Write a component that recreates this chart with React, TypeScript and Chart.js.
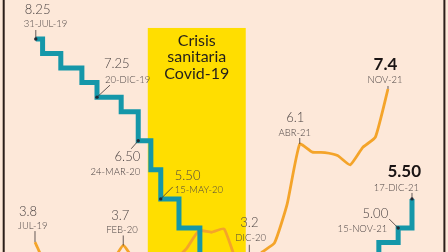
import { useEffect, useRef } from "react";
import { Chart, registerables } from "chart.js";

Chart.register(...registerables);

// Banxico target rate (effective dates) and values
const rateDates = [
  "2019-07-31", "2019-08-16", "2019-09-27", "2019-11-15", "2019-12-20",
  "2020-02-14", "2020-03-24", "2020-04-22", "2020-05-15", "2020-06-26",
  "2020-08-14", "2020-09-25", "2021-02-12", "2021-06-25", "2021-08-13",
  "2021-10-01", "2021-11-15", "2021-12-17",
];
const rateValues = [
  8.25, 8.0, 7.75, 7.5, 7.25,
  7.0, 6.5, 6.0, 5.5, 5.0,
  4.5, 4.25, 4.0, 4.25, 4.5,
  4.75, 5.0, 5.5,
];
const rateNotes = ["31-JUL-19", "20-DIC-19", "24-MAR-20", "15-MAY-20", "12-AGO-21", "15-NOV-21", "17-DIC-21"];

// Annual inflation, monthly
const inflMonths = [
  "JUL-19", "AGO-19", "SEP-19", "OCT-19", "NOV-19", "DIC-19",
  "ENE-20", "FEB-20", "MAR-20", "ABR-20", "MAY-20", "JUN-20",
  "JUL-20", "AGO-20", "SEP-20", "OCT-20", "NOV-20", "DIC-20",
  "ENE-21", "FEB-21", "MAR-21", "ABR-21", "MAY-21", "JUN-21",
  "JUL-21", "AGO-21", "SEP-21", "OCT-21", "NOV-21",
];
const inflValues = [
  3.78, 3.16, 3.0, 3.02, 2.97, 2.83,
  3.24, 3.7, 3.25, 2.15, 2.84, 3.33,
  3.62, 4.05, 4.01, 4.09, 3.33, 3.2,
  3.54, 3.76, 4.67, 6.08, 5.89, 5.88,
  5.81, 5.59, 6.0, 6.24, 7.37,
];
const inflNotes = ["JUL-19", "FEB-20", "DIC-20", "ABR-21", "NOV-21"];

// Covid band
const bandText = ["Crisis", "sanitaria", "Covid-19"];
const bandDates = ["2020-04-15", "2020-11-28"];
const bandTopRate = 8.44;

const MONTHS = ["ENE", "FEB", "MAR", "ABR", "MAY", "JUN", "JUL", "AGO", "SEP", "OCT", "NOV", "DIC"];

const daysIn = (y: number, m1: number) => new Date(y, m1, 0).getDate();
function dateToMonth(s: string) {
  const [y, m, d] = s.split("-").map(Number);
  return (y - 2019) * 12 + (m - 7) + (d - 1) / daysIn(y, m);
}
function noteToIso(n: string) {
  const [d, mon, yy] = n.split("-");
  const m = MONTHS.indexOf(mon) + 1;
  return `20${yy}-${String(m).padStart(2, "0")}-${d}`;
}
const fmt = (v: number, dp: number) => (Math.round(v * 10 ** dp + 1e-6) / 10 ** dp).toFixed(dp);

// label layout (offsets from the point): [dx, dy, align]
type Lay = { num: [number, number, CanvasTextAlign]; date: [number, number, CanvasTextAlign]; lead: [number, number]; bold?: boolean };
const rateLayout: Lay[] = [
  { num: [-11, -25, "left"], date: [-12, -12, "left"], lead: [0, -9] },
  { num: [7, -29, "left"], date: [8, -14, "left"], lead: [13, -12] },
  { num: [2, 20, "right"], date: [2, 34, "right"], lead: [-7, 8] },
  { num: [14, -19, "left"], date: [14, -6, "left"], lead: [12, -12] },
  { num: [-7, -4, "right"], date: [-7, 10, "right"], lead: [-6, -9] },
  { num: [-10, -10, "right"], date: [-11, 4, "right"], lead: [-9, -9] },
  { num: [9, -22, "right"], date: [7, -8, "right"], lead: [0, -6], bold: true },
];
const inflLayout: Lay[] = [
  { num: [-16, -26, "left"], date: [-17, -13, "left"], lead: [0, -11] },
  { num: [-12, -25, "left"], date: [-17, -12, "left"], lead: [0, -10] },
  { num: [-9, -40, "left"], date: [-14, -26, "left"], lead: [0, -22] },
  { num: [-4.5, -22, "center"], date: [-5, -8, "center"], lead: [0, -6] },
  { num: [-2.5, -19, "center"], date: [-3, -6, "center"], lead: [0, -3], bold: true },
];

const BG = "#fde8d9";
const TEAL = "#1597a9";
const ORANGE = "#f4a42a";
const YELLOW = "#ffde00";
const TEXT = "#4b4343";
const FONT = "Lato, 'Open Sans', sans-serif";

export default function App() {
  const ref = useRef<HTMLCanvasElement>(null);

  useEffect(() => {
    if (!ref.current) return;
    const rateData = rateDates.map((d, i) => ({ x: dateToMonth(d), y: rateValues[i] }));
    const inflData = inflValues.map((v, i) => ({ x: i, y: v }));

    const drawNote = (ctx: CanvasRenderingContext2D, px: number, py: number, num: string, date: string, lay: Lay, dot: boolean) => {
      ctx.strokeStyle = "#3d3535";
      ctx.lineWidth = 0.8;
      ctx.beginPath();
      ctx.moveTo(px, py);
      ctx.lineTo(px + lay.lead[0], py + lay.lead[1]);
      ctx.stroke();
      if (dot) {
        ctx.fillStyle = "#1f2a36";
        ctx.beginPath();
        ctx.arc(px, py, 1.7, 0, Math.PI * 2);
        ctx.fill();
      }
      ctx.textBaseline = "alphabetic";
      ctx.fillStyle = lay.bold ? "#1a1414" : TEXT;
      ctx.font = lay.bold ? `bold 17px ${FONT}` : `300 13px ${FONT}`;
      ctx.textAlign = lay.num[2];
      ctx.fillText(num, px + lay.num[0], py + lay.num[1]);
      ctx.fillStyle = TEXT;
      ctx.font = `300 9.5px ${FONT}`;
      ctx.textAlign = lay.date[2];
      ctx.fillText(date, px + lay.date[0], py + lay.date[1]);
    };

    const deco = {
      id: "deco",
      beforeDraw(chart: any) {
        const { ctx, width, height } = chart;
        ctx.save();
        ctx.fillStyle = BG;
        ctx.fillRect(0, 0, width, height);
        const xs = chart.scales.xr;
        const ys = chart.scales.yr;
        const x0 = xs.getPixelForValue(dateToMonth(bandDates[0]));
        const x1 = xs.getPixelForValue(dateToMonth(bandDates[1]));
        const y0 = ys.getPixelForValue(bandTopRate);
        ctx.fillStyle = YELLOW;
        ctx.fillRect(x0, y0, x1 - x0, height - y0);
        ctx.fillStyle = "#231f1c";
        ctx.font = `16px ${FONT}`;
        ctx.textAlign = "center";
        ctx.textBaseline = "alphabetic";
        bandText.forEach((t, i) => ctx.fillText(t, (x0 + x1) / 2, y0 + 18 + i * 16.5));
        ctx.restore();
      },
      afterDatasetsDraw(chart: any) {
        const { ctx, width, height } = chart;
        ctx.save();
        const xr = chart.scales.xr, yr = chart.scales.yr, xi = chart.scales.xi, yi = chart.scales.yi;
        rateNotes.forEach((n, k) => {
          const iso = noteToIso(n);
          const idx = rateDates.indexOf(iso);
          if (idx < 0) return;
          const px = xr.getPixelForValue(dateToMonth(iso));
          const py = yr.getPixelForValue(rateValues[idx]);
          drawNote(ctx, px, py, fmt(rateValues[idx], 2), n, rateLayout[k], true);
        });
        inflNotes.forEach((n, k) => {
          const idx = inflMonths.indexOf(n);
          if (idx < 0) return;
          const px = xi.getPixelForValue(idx);
          const py = yi.getPixelForValue(inflValues[idx]);
          drawNote(ctx, px, py, fmt(inflValues[idx], 1), n, inflLayout[k], false);
        });
        ctx.fillStyle = "#2b1f1a";
        ctx.fillRect(2.7, 0, 2, height);
        ctx.fillRect(width - 4.6, 0, 2, height);
        ctx.restore();
      },
    };

    const chart = new Chart(ref.current, {
      type: "line",
      data: {
        datasets: [
          {
            data: rateData,
            xAxisID: "xr",
            yAxisID: "yr",
            stepped: true,
            borderColor: TEAL,
            borderWidth: 5,
            pointRadius: 0,
            fill: false,
            borderJoinStyle: "miter",
            borderCapStyle: "butt",
          } as any,
          {
            data: inflData,
            xAxisID: "xi",
            yAxisID: "yi",
            borderColor: ORANGE,
            borderWidth: 2.8,
            pointRadius: 0,
            tension: 0.15,
            fill: false,
            borderJoinStyle: "round",
          } as any,
        ],
      },
      options: {
        responsive: false,
        devicePixelRatio: 1,
        animation: false,
        events: [],
        layout: { padding: 0 },
        plugins: { legend: { display: false }, tooltip: { enabled: false } },
        scales: {
          xr: { type: "linear", display: false, min: -1.7476, max: 32.248 },
          xi: { type: "linear", display: false, min: -2.776, max: 32.76 },
          yr: { type: "linear", display: false, min: 4.587, max: 8.921 },
          yi: { type: "linear", display: false, min: 3.547, max: 9.457 },
        },
      },
      plugins: [deco],
    });
    return () => chart.destroy();
  }, []);

  return (
    <div style={{ position: "fixed", left: 0, top: 0, width: 448, height: 252 }}>
      <canvas ref={ref} width={448} height={252} style={{ display: "block" }} />
    </div>
  );
}
